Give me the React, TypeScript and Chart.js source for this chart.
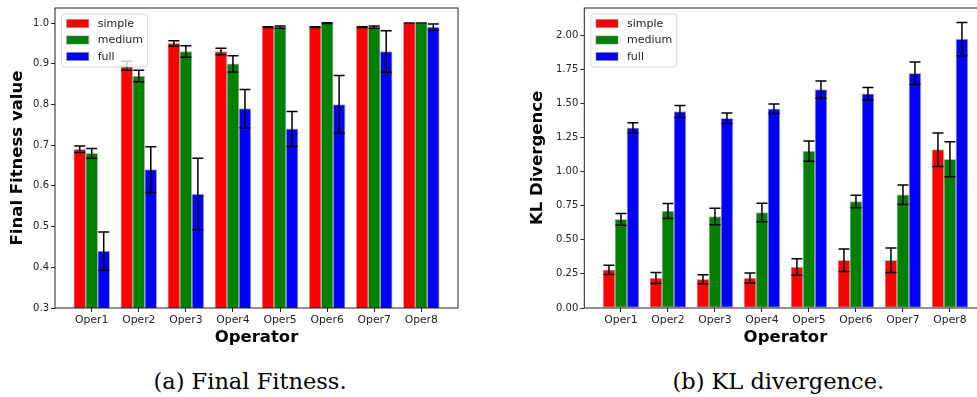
import React, { useEffect, useRef } from 'react';
import { Chart, registerables } from 'chart.js';

Chart.register(...registerables);

// ---------- data ----------
const operators = ['Oper1', 'Oper2', 'Oper3', 'Oper4', 'Oper5', 'Oper6', 'Oper7', 'Oper8'];
const seriesNames = ['simple', 'medium', 'full'];
const seriesColors = ['#ff0000', '#008000', '#0000ff'];

const fitnessSimple = [0.69, 0.895, 0.95, 0.93, 0.99, 0.99, 0.99, 1.0];
const fitnessSimpleErr = [0.008, 0.011, 0.0065, 0.008, 0.001, 0.001, 0.001, 0.0];
const fitnessMedium = [0.68, 0.87, 0.93, 0.9, 0.99, 1.0, 0.99, 1.0];
const fitnessMediumErr = [0.012, 0.014, 0.014, 0.02, 0.003, 0.001, 0.003, 0.0];
const fitnessFull = [0.44, 0.64, 0.58, 0.79, 0.74, 0.8, 0.93, 0.99];
const fitnessFullErr = [0.047, 0.056, 0.088, 0.047, 0.043, 0.071, 0.051, 0.008];

const klSimple = [0.28, 0.22, 0.21, 0.22, 0.3, 0.35, 0.35, 1.16];
const klSimpleErr = [0.034, 0.041, 0.033, 0.037, 0.06, 0.082, 0.089, 0.123];
const klMedium = [0.65, 0.71, 0.67, 0.7, 1.15, 0.78, 0.83, 1.09];
const klMediumErr = [0.043, 0.055, 0.06, 0.068, 0.074, 0.046, 0.071, 0.128];
const klFull = [1.32, 1.44, 1.39, 1.46, 1.6, 1.57, 1.72, 1.97];
const klFullErr = [0.037, 0.044, 0.039, 0.035, 0.063, 0.046, 0.083, 0.121];

const fitnessTicks = [0.3, 0.4, 0.5, 0.6, 0.7, 0.8, 0.9, 1.0];
const klTicks = [0, 0.25, 0.5, 0.75, 1.0, 1.25, 1.5, 1.75, 2.0];

const fitnessTitle = 'Final Fitness value';
const klTitle = 'KL Divergence';
const xTitle = 'Operator';
const captionA = '(a) Final Fitness.';
const captionB = '(b) KL divergence.';

// ---------- helpers ----------
const SANS = '"DejaVu Sans", sans-serif';

function makeOverlay(errors: number[][]) {
  return {
    id: 'overlay',
    afterDatasetsDraw(chart: any) {
      const { ctx, chartArea: a, scales } = chart;
      const yS = scales.y;
      ctx.save();
      // spines
      ctx.strokeStyle = '#222';
      ctx.lineWidth = 1;
      ctx.strokeRect(a.left, a.top, a.right - a.left, a.bottom - a.top);
      // error bars
      ctx.strokeStyle = '#000';
      ctx.lineWidth = 1.5;
      chart.data.datasets.forEach((ds: any, i: number) => {
        const meta = chart.getDatasetMeta(i);
        meta.data.forEach((el: any, j: number) => {
          const v = ds.data[j].y;
          const e = errors[i][j];
          const x = el.x;
          const yt = yS.getPixelForValue(v + e);
          const yb = yS.getPixelForValue(v - e);
          ctx.beginPath();
          ctx.moveTo(x, yt);
          ctx.lineTo(x, yb);
          ctx.moveTo(x - 5.5, yt);
          ctx.lineTo(x + 5.5, yt);
          ctx.moveTo(x - 5.5, yb);
          ctx.lineTo(x + 5.5, yb);
          ctx.stroke();
        });
      });
      ctx.restore();
    },
    afterDraw(chart: any) {
      const { ctx, chartArea: a } = chart;
      ctx.save();
      const bx = a.left + 6.5;
      const by = a.top + 6;
      ctx.beginPath();
      (ctx as any).roundRect(bx, by, 86, 53, 3);
      ctx.fillStyle = 'rgba(255,255,255,0.8)';
      ctx.fill();
      ctx.strokeStyle = 'rgba(204,204,204,0.8)';
      ctx.lineWidth = 1;
      ctx.stroke();
      chart.data.datasets.forEach((ds: any, i: number) => {
        const yc = a.top + 15.5 + i * 16.5;
        ctx.fillStyle = ds.backgroundColor;
        ctx.fillRect(a.left + 11.7, yc - 4, 22, 8);
        ctx.strokeStyle = 'rgba(128,128,128,0.6)';
        ctx.strokeRect(a.left + 11.7, yc - 4, 22, 8);
        ctx.fillStyle = '#222';
        ctx.font = `11px ${SANS}`;
        ctx.textBaseline = 'middle';
        ctx.textAlign = 'left';
        ctx.fillText(ds.label, a.left + 42.7, yc + 0.5);
      });
      ctx.restore();
    },
  };
}

function makeConfig(
  values: number[][],
  errors: number[][],
  yMin: number,
  yMax: number,
  yTicks: number[],
  decimals: number,
  yTitle: string,
  yAxisWidth: number,
  yTitlePad: number,
  padRight: number
): any {
  return {
    type: 'bar',
    data: {
      datasets: values.map((vals, i) => ({
        label: seriesNames[i],
        data: vals.map((v, j) => ({ x: j, y: v })),
        backgroundColor: seriesColors[i],
        borderColor: 'rgba(128,128,128,0.55)',
        borderWidth: 1,
        borderSkipped: false,
        barThickness: 12,
      })),
    },
    options: {
      animation: false,
      responsive: false,
      devicePixelRatio: 1,
      layout: { padding: { top: 7.5, right: padRight, left: 0, bottom: 0 } },
      plugins: { legend: { display: false }, tooltip: { enabled: false } },
      scales: {
        x: {
          type: 'linear',
          min: -0.78,
          max: 7.78,
          offset: false,
          grid: { display: true, drawOnChartArea: false, drawTicks: true, tickLength: 4, tickColor: '#222', offset: false },
          border: { display: false },
          afterBuildTicks: (s: any) => {
            s.ticks = operators.map((_, i) => ({ value: i }));
          },
          afterFit: (s: any) => {
            s.height = 42;
          },
          ticks: {
            font: { family: SANS, size: 10.8 },
            color: '#222',
            padding: 2,
            maxRotation: 0,
            autoSkip: false,
            callback: (v: number) => operators[Math.round(v)] ?? '',
          },
          title: {
            display: true,
            text: xTitle,
            color: '#000',
            font: { family: SANS, size: 16.5, weight: 'bold' },
            padding: { top: 0, bottom: 2 },
          },
        },
        y: {
          type: 'linear',
          min: yMin,
          max: yMax,
          beginAtZero: false,
          grid: { display: true, drawOnChartArea: false, drawTicks: true, tickLength: 4, tickColor: '#222' },
          border: { display: false },
          afterBuildTicks: (s: any) => {
            s.ticks = yTicks.map((v) => ({ value: v }));
          },
          afterFit: (s: any) => {
            s.width = yAxisWidth;
          },
          ticks: {
            font: { family: SANS, size: 10 },
            color: '#222',
            padding: 2,
            callback: (v: number) => Number(v).toFixed(decimals),
          },
          title: {
            display: true,
            text: yTitle,
            color: '#000',
            font: { family: SANS, size: 16.5, weight: 'bold' },
            padding: { top: yTitlePad, bottom: 0 },
          },
        },
      },
    },
    plugins: [makeOverlay(errors)],
  };
}

export default function App() {
  const leftRef = useRef<HTMLCanvasElement>(null);
  const rightRef = useRef<HTMLCanvasElement>(null);

  useEffect(() => {
    const left = new Chart(
      leftRef.current as HTMLCanvasElement,
      makeConfig(
        [fitnessSimple, fitnessMedium, fitnessFull],
        [fitnessSimpleErr, fitnessMediumErr, fitnessFullErr],
        0.3,
        1.037,
        fitnessTicks,
        1,
        fitnessTitle,
        55,
        8.1,
        30
      )
    );
    const right = new Chart(
      rightRef.current as HTMLCanvasElement,
      makeConfig(
        [klSimple, klMedium, klFull],
        [klSimpleErr, klMediumErr, klFullErr],
        0,
        2.198,
        klTicks,
        2,
        klTitle,
        94.3,
        37.6,
        13.4
      )
    );
    return () => {
      left.destroy();
      right.destroy();
    };
  }, []);

  const captionStyle: React.CSSProperties = {
    position: 'absolute',
    top: 366,
    width: 300,
    height: 30,
    lineHeight: '30px',
    textAlign: 'center',
    fontFamily: '"DejaVu Serif", serif',
    fontSize: 22.5,
    color: '#000',
    whiteSpace: 'nowrap',
  };

  return (
    <div
      style={{
        position: 'absolute',
        left: 0,
        top: 0,
        width: 977,
        height: 397,
        overflow: 'hidden',
        background: '#fff',
      }}
    >
      <canvas
        ref={leftRef}
        width={488}
        height={350}
        style={{ position: 'absolute', left: 0, top: 0, width: 488, height: 350 }}
      />
      <canvas
        ref={rightRef}
        width={510}
        height={350}
        style={{ position: 'absolute', left: 490, top: 0, width: 510, height: 350 }}
      />
      <div style={{ ...captionStyle, left: 250 - 150 }}>{captionA}</div>
      <div style={{ ...captionStyle, left: 778.3 - 150 }}>{captionB}</div>
    </div>
  );
}
